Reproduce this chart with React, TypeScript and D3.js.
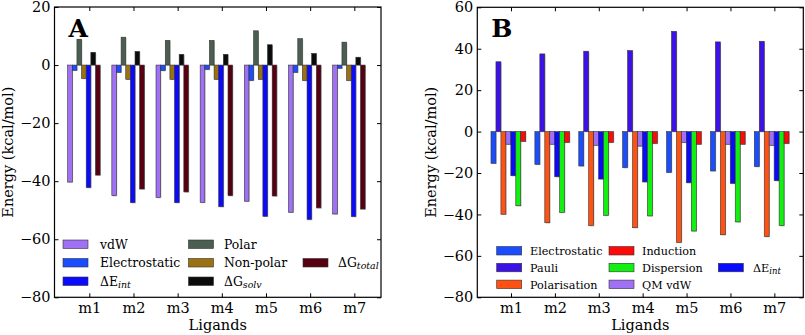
import { useEffect, useRef } from "react";
import * as d3 from "d3";

const ligands = ["m1", "m2", "m3", "m4", "m5", "m6", "m7"];

// Panel A (kcal/mol)
const vdW = [-40.3, -45.0, -45.6, -47.3, -46.9, -50.7, -51.3];
const elecA = [-1.8, -2.5, -1.9, -1.5, -5.3, -2.5, -1.1];
const polar = [8.9, 9.6, 8.5, 8.5, 11.8, 9.1, 7.9];
const nonPolar = [-4.6, -4.9, -4.9, -4.9, -4.9, -5.3, -5.3];
const dEintA = [-42.2, -47.4, -47.4, -48.8, -52.1, -53.2, -52.2];
const dGsolv = [4.4, 4.7, 3.7, 3.7, 7.0, 4.0, 2.7];
const dGtotal = [-37.9, -42.7, -43.7, -45.0, -45.1, -49.2, -49.6];

// Panel B (kcal/mol)
const elecB = [-15.3, -15.8, -16.6, -17.4, -19.7, -19.0, -16.9];
const pauli = [33.7, 37.5, 38.8, 39.1, 48.4, 43.3, 43.6];
const polarisation = [-39.9, -44.0, -45.4, -46.4, -53.5, -49.8, -50.7];
const qmVdW = [-6.1, -6.1, -6.6, -7.0, -5.2, -6.1, -6.6];
const dEintB = [-21.3, -21.8, -22.9, -24.3, -24.7, -25.0, -23.7];
const dispersion = [-35.8, -39.0, -40.4, -40.7, -48.0, -43.6, -45.4];
const induction = [-4.7, -5.2, -5.2, -5.7, -6.1, -6.1, -5.7];

const ticksA = [20, 0, -20, -40, -60, -80];
const ticksB = [60, 40, 20, 0, -20, -40, -60, -80];

type Series = { name: string; sub?: string; values: number[]; color: string };

const seriesA: Series[] = [
  { name: "vdW", values: vdW, color: "#a070f5" },
  { name: "Electrostatic", values: elecA, color: "#1a4dff" },
  { name: "Polar", values: polar, color: "#4b5e52" },
  { name: "Non-polar", values: nonPolar, color: "#9a7212" },
  { name: "ΔE", sub: "int", values: dEintA, color: "#0a0aff" },
  { name: "ΔG", sub: "solv", values: dGsolv, color: "#0b0b0b" },
  { name: "ΔG", sub: "total", values: dGtotal, color: "#560012" },
];

const seriesB: Series[] = [
  { name: "Electrostatic", values: elecB, color: "#1a4dff" },
  { name: "Pauli", values: pauli, color: "#3c12e6" },
  { name: "Polarisation", values: polarisation, color: "#ff5212" },
  { name: "QM vdW", values: qmVdW, color: "#a070f5" },
  { name: "ΔE", sub: "int", values: dEintB, color: "#0a0aff" },
  { name: "Dispersion", values: dispersion, color: "#12f012" },
  { name: "Induction", values: induction, color: "#ff0808" },
];

const FONT = "'DejaVu Serif', 'Liberation Serif', serif";

interface PanelCfg {
  letter: string;
  left: number;
  right: number;
  top: number;
  bottom: number;
  xDomain: [number, number];
  yDomain: [number, number];
  ticks: number[];
  barW: number;
  offset: number;
  series: Series[];
  // legend: [series index, column, row]
  legend: [number, number, number][];
  legCols: number[];
  legTextCols: number[];
  legRows: number[];
  legFont: number;
  ylabelX: number;
}

function drawPanel(svg: d3.Selection<SVGSVGElement, unknown, null, undefined>, c: PanelCfg) {
  const g = svg.append("g");
  const x = d3.scaleLinear().domain(c.xDomain).range([c.left, c.right]);
  const y = d3.scaleLinear().domain(c.yDomain).range([c.bottom, c.top]);
  const step = x(2) - x(1);

  // bar shadows, then bars
  c.series.forEach((s, k) => {
    g.selectAll(null)
      .data(s.values)
      .enter()
      .append("rect")
      .attr("x", (_d, i) => x(i + 1 - c.offset + k * c.barW) + 0.8)
      .attr("y", (d) => Math.min(y(d), y(0)) + 0.8)
      .attr("width", c.barW * step)
      .attr("height", (d) => Math.abs(y(d) - y(0)))
      .attr("fill", "#c8c8c8");
  });
  c.series.forEach((s, k) => {
    g.selectAll(null)
      .data(s.values)
      .enter()
      .append("rect")
      .attr("x", (_d, i) => x(i + 1 - c.offset + k * c.barW))
      .attr("y", (d) => Math.min(y(d), y(0)))
      .attr("width", c.barW * step)
      .attr("height", (d) => Math.abs(y(d) - y(0)))
      .attr("fill", s.color)
      .attr("stroke", "#333")
      .attr("stroke-width", 0.6);
  });

  // axes
  const xTicks = ligands.map((_l, i) => i + 1);
  const fmt = (d: d3.NumberValue) => d3.format("")(d as number).replace("-", "−");
  const axL = g
    .append("g")
    .attr("transform", `translate(${c.left},0)`)
    .call(d3.axisLeft(y).tickValues(c.ticks).tickSizeInner(-4).tickSizeOuter(0).tickPadding(4).tickFormat(fmt));
  const axR = g
    .append("g")
    .attr("transform", `translate(${c.right},0)`)
    .call(d3.axisRight(y).tickValues(c.ticks).tickSizeInner(-4).tickSizeOuter(0).tickFormat(() => ""));
  const axB = g
    .append("g")
    .attr("transform", `translate(0,${c.bottom})`)
    .call(
      d3
        .axisBottom(x)
        .tickValues(xTicks)
        .tickSizeInner(-4)
        .tickSizeOuter(0)
        .tickFormat((_d, i) => ligands[i])
    );
  const axT = g
    .append("g")
    .attr("transform", `translate(0,${c.top})`)
    .call(d3.axisTop(x).tickValues(xTicks).tickSizeInner(-4).tickSizeOuter(0).tickFormat(() => ""));
  [axL, axR, axB, axT].forEach((a) => {
    a.attr("font-family", FONT);
    a.select(".domain").remove();
    a.selectAll("line").attr("stroke", "#000").attr("stroke-width", 1);
    a.selectAll("text").attr("font-family", FONT).attr("font-size", 14.5).attr("fill", "#000");
  });
  axB.selectAll("text").attr("y", 15.5).attr("dy", 0);

  g.append("rect")
    .attr("x", c.left)
    .attr("y", c.top)
    .attr("width", c.right - c.left)
    .attr("height", c.bottom - c.top)
    .attr("fill", "none")
    .attr("stroke", "#000")
    .attr("stroke-width", 1.2);

  // panel letter
  g.append("text")
    .attr("x", c.left + 14)
    .attr("y", c.top + 30)
    .attr("font-family", FONT)
    .attr("font-weight", "bold")
    .attr("font-size", 25)
    .text(c.letter);

  // axis labels
  g.append("text")
    .attr("x", (c.left + c.right) / 2)
    .attr("y", 330)
    .attr("text-anchor", "middle")
    .attr("font-family", FONT)
    .attr("font-size", 14.5)
    .text("Ligands");
  g.append("text")
    .attr("transform", `translate(${c.ylabelX},${(c.top + c.bottom) / 2}) rotate(-90)`)
    .attr("text-anchor", "middle")
    .attr("font-family", FONT)
    .attr("font-size", 14.5)
    .text("Energy (kcal/mol)");

  // legend
  c.legend.forEach(([si, col, row]) => {
    const s = c.series[si];
    const cy = c.legRows[row];
    g.append("rect")
      .attr("x", c.legCols[col])
      .attr("y", cy - 4.5)
      .attr("width", 25)
      .attr("height", 8.5)
      .attr("fill", s.color)
      .attr("stroke", "#333")
      .attr("stroke-width", 0.6);
    const t = g
      .append("text")
      .attr("x", c.legTextCols[col])
      .attr("y", cy + c.legFont * 0.36)
      .attr("font-family", FONT)
      .attr("font-size", c.legFont)
      .text(s.name);
    if (s.sub) {
      t.append("tspan")
        .attr("font-size", c.legFont * 0.76)
        .attr("font-style", "italic")
        .attr("dy", 2)
        .text(s.sub);
    }
  });
}

export default function App() {
  const svgRef = useRef<SVGSVGElement>(null);

  useEffect(() => {
    const svg = d3.select(svgRef.current!);
    svg.selectAll("*").remove();

    drawPanel(svg, {
      letter: "A",
      left: 54.5,
      right: 381,
      top: 7,
      bottom: 297.3,
      xDomain: [0.212, 7.604],
      yDomain: [-80, 20],
      ticks: ticksA,
      barW: 0.105,
      offset: 0.49,
      series: seriesA,
      legend: [
        [0, 0, 0],
        [1, 0, 1],
        [4, 0, 2],
        [2, 1, 0],
        [3, 1, 1],
        [5, 1, 2],
        [6, 2, 1],
      ],
      legCols: [63, 188.5, 303],
      legTextCols: [100, 224, 338],
      legRows: [244.5, 263, 281.5],
      legFont: 12.4,
      ylabelX: 13,
    });

    drawPanel(svg, {
      letter: "B",
      left: 477.3,
      right: 803.3,
      top: 7.3,
      bottom: 297.3,
      xDomain: [0.232, 7.66],
      yDomain: [-80, 60],
      ticks: ticksB,
      barW: 0.113,
      offset: 0.456,
      series: seriesB,
      legend: [
        [0, 0, 0],
        [1, 0, 1],
        [2, 0, 2],
        [6, 1, 0],
        [5, 1, 1],
        [3, 1, 2],
        [4, 2, 1],
      ],
      legCols: [496.7, 609, 718.3],
      legTextCols: [530, 642, 753],
      legRows: [251, 267.8, 284.6],
      legFont: 11.2,
      ylabelX: 436,
    });
  }, []);

  return (
    <svg
      ref={svgRef}
      width={805}
      height={335}
      style={{ position: "absolute", left: 0, top: 0, background: "#fff" }}
    ></svg>
  );
}
